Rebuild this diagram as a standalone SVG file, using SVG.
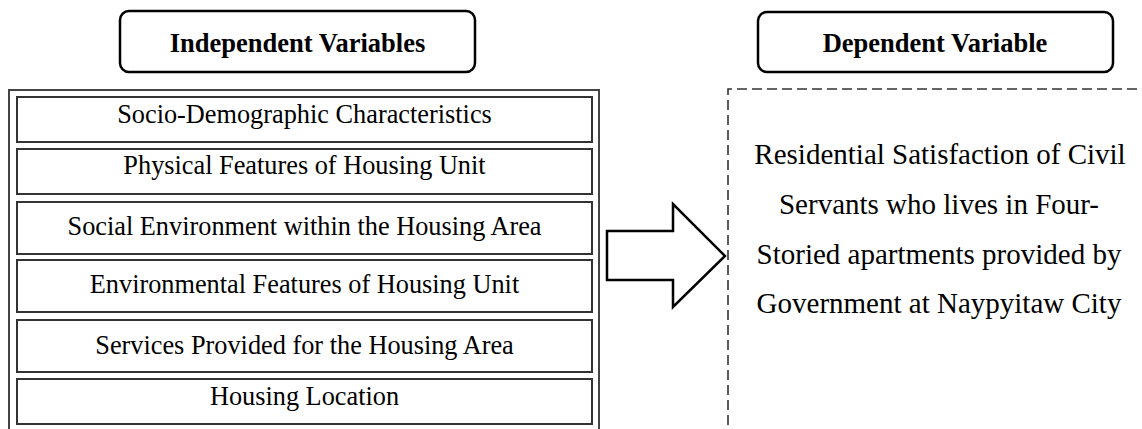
<svg xmlns="http://www.w3.org/2000/svg" width="1142" height="429" viewBox="0 0 1142 429">
<style>
.hdr{fill:#fff;stroke:#000;stroke-width:2.5}
.hdrt{font-family:'Liberation Serif','Times New Roman',Times,'DejaVu Serif',serif;font-weight:bold;font-size:26.5px;fill:#000;text-anchor:middle}
.item{fill:#fff;stroke:#333;stroke-width:2}
.itemt{font-family:'Liberation Serif','Times New Roman',Times,'DejaVu Serif',serif;font-size:26.3px;fill:#000;text-anchor:middle}
.dept{font-family:'Liberation Serif','Times New Roman',Times,'DejaVu Serif',serif;font-size:29px;fill:#000;text-anchor:middle}
</style>
<rect width="1142" height="429" fill="#fff"/>
<g id="indep-header">
<rect class="hdr" x="120" y="11" width="355" height="61" rx="9"/>
<text class="hdrt" x="297.5" y="52" font-family="Liberation Serif">Independent Variables</text>
</g>
<g id="dep-header">
<rect class="hdr" x="758" y="12" width="355" height="60" rx="9"/>
<text class="hdrt" x="935" y="52" font-family="Liberation Serif">Dependent Variable</text>
</g>
<g id="indep-group">
<rect x="9" y="90" width="590" height="350" fill="#fff" stroke="#444" stroke-width="2"/>
</g>
<g id="item1"><rect class="item" x="17" y="97" width="575" height="45"/><text class="itemt" x="304.5" y="123">Socio-Demographic Characteristics</text></g>
<g id="item2"><rect class="item" x="17" y="149" width="575" height="45"/><text class="itemt" x="304.5" y="174">Physical Features of Housing Unit</text></g>
<g id="item3"><rect class="item" x="17" y="202" width="575" height="52"/><text class="itemt" x="304.5" y="235">Social Environment within the Housing Area</text></g>
<g id="item4"><rect class="item" x="17" y="260" width="575" height="52"/><text class="itemt" x="304.5" y="293">Environmental Features of Housing Unit</text></g>
<g id="item5"><rect class="item" x="17" y="320" width="575" height="52"/><text class="itemt" x="304.5" y="354">Services Provided for the Housing Area</text></g>
<g id="item6"><rect class="item" x="17" y="379" width="575" height="45"/><text class="itemt" x="304.5" y="405">Housing Location</text></g>
<g id="dep-box">
<path d="M728,440 V89 H1150" fill="none" stroke="#333" stroke-width="1.6" stroke-dasharray="10,5"/>
<text class="dept" x="940" y="164">Residential Satisfaction of Civil</text>
<text class="dept" x="939" y="214">Servants who lives in Four-</text>
<text class="dept" x="939" y="264">Storied apartments provided by</text>
<text class="dept" x="939" y="313">Government at Naypyitaw City</text>
</g>
<g id="connectors">
<polygon points="607,231 673,231 673,204 725,256 673,307 673,280 607,280" fill="#fff" stroke="#000" stroke-width="2.5"/>
</g>
</svg>
